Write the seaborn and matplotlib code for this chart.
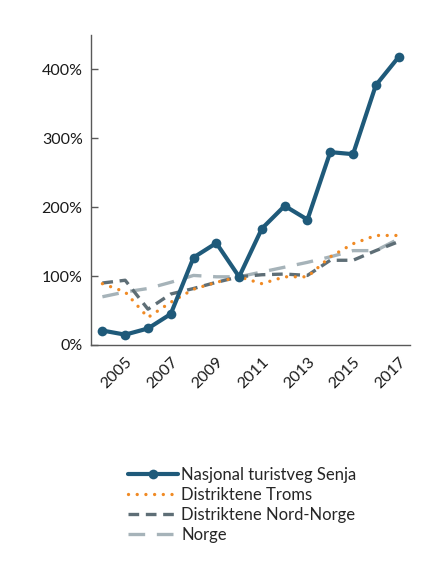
import numpy as np
import pandas as pd
import matplotlib
matplotlib.use('Agg')
import matplotlib.pyplot as plt
from matplotlib.ticker import FuncFormatter
import seaborn as sns

# Index values (%) per year
years = list(range(2004, 2018))
senja = [21, 15, 24, 45, 127, 148, 99, 169, 202, 182, 280, 277, 377, 418]
troms = [89, 77, 40, 62, 81, 91, 99, 89, 99, 99, 128, 147, 159, 159]
nord_norge = [90, 94, 52, 74, 82, 91, 99, 102, 103, 101, 123, 123, 137, 150]
norge = [70, 77, 82, 91, 101, 99, 99, 106, 113, 120, 128, 137, 137, 154]

series_names = ['Nasjonal turistveg Senja', 'Distriktene Troms',
                'Distriktene Nord-Norge', 'Norge']
colors = ['#1f5a7a', '#f08a24', '#5e6e76', '#a6b3b9']

df = pd.DataFrame({'year': years, series_names[0]: senja, series_names[1]: troms,
                   series_names[2]: nord_norge, series_names[3]: norge})
long_df = df.melt(id_vars='year', var_name='serie', value_name='value')

sns.set_style('white')
plt.rcParams['font.family'] = ['Lato', 'DejaVu Sans']

fig = plt.figure(figsize=(4.36, 5.65), dpi=100)
ax = fig.add_axes([91/436, 1 - 345/565, 319/436, 310/565])

# draw back to front so Senja sits on top
styles = {
    series_names[3]: dict(lw=2.4, dashes=(5, 3.5)),
    series_names[2]: dict(lw=2.4, dashes=(3.2, 2)),
    series_names[1]: dict(lw=2.4, dashes=(0.01, 2.6)),
}
for name in [series_names[3], series_names[2], series_names[1]]:
    sub = long_df[long_df['serie'] == name]
    sns.lineplot(data=sub, x='year', y='value', ax=ax,
                 color=colors[series_names.index(name)], label=name)
    l = ax.get_lines()[-1]
    l.set_linewidth(styles[name]['lw'])
    l.set_dashes(styles[name]['dashes'])
    if name == series_names[1]:
        l.set_dash_capstyle('round')

sub = long_df[long_df['serie'] == series_names[0]]
sns.lineplot(data=sub, x='year', y='value', ax=ax, color=colors[0],
             marker='o', markersize=7, markeredgewidth=0, linewidth=3,
             label=series_names[0])

ax.set_xlim(2003.5, 2017.5)
ax.set_ylim(0, 450)
ax.set_yticks([0, 100, 200, 300, 400])
ax.yaxis.set_major_formatter(FuncFormatter(lambda v, p: f'{int(v)}%'))
ax.set_xticks(list(range(2005, 2018, 2)))
ax.set_xlabel('')
ax.set_ylabel('')

for side in ['top', 'right']:
    ax.spines[side].set_visible(False)
for side in ['left', 'bottom']:
    ax.spines[side].set_color('#595959')
    ax.spines[side].set_linewidth(1.0)

ax.tick_params(axis='y', direction='in', length=5, width=1, color='#595959',
               labelsize=11.5, labelcolor='#1a1a1a', pad=6, left=True)
ax.tick_params(axis='x', length=0, labelsize=11.5, labelcolor='#1a1a1a', pad=7)
for lab in ax.get_xticklabels():
    lab.set_rotation(45)
    lab.set_ha('right')
    lab.set_rotation_mode('anchor')

handles, labels = ax.get_legend_handles_labels()
order = [labels.index(n) for n in series_names]
ax.legend([handles[i] for i in order], [labels[i] for i in order],
          loc='upper left', bbox_to_anchor=(121/436, 1 - 460/565),
          bbox_transform=fig.transFigure, frameon=False, fontsize=12,
          handlelength=3.0, handletextpad=0.2, labelspacing=0.25,
          borderaxespad=0)

fig.savefig('out.png', dpi=100)
